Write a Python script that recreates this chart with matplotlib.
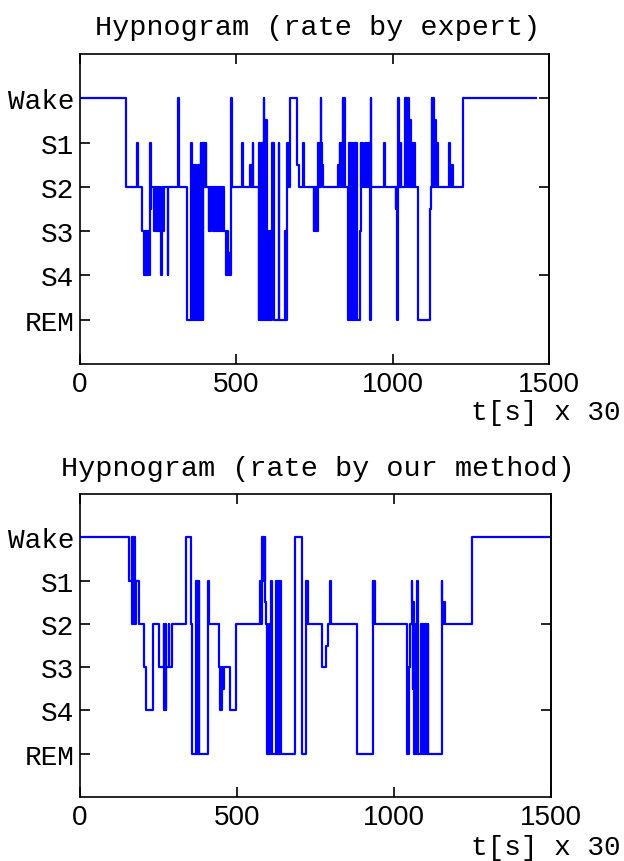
import matplotlib
matplotlib.use("Agg")
import matplotlib.pyplot as plt

# Stage coding: Wake=5, S1=4, S2=3, S3=2, S4=1, REM=0
stage_ticks = [5, 4, 3, 2, 1, 0]
stage_labels = ["Wake", "S1", "S2", "S3", "S4", "REM"]
x_ticks = [0, 500, 1000, 1500]

# Expert hypnogram: change epochs and stage values
expert_start = [
    0, 147, 183, 186, 198, 204, 207, 209, 212, 214, 217, 219, 221, 224, 226, 228,
    238, 240, 242, 245, 247, 250, 252, 255, 257, 260, 262, 267, 270, 281, 283,
    315, 317, 342, 356, 358, 361, 363, 365, 367, 369, 371, 377, 379, 381, 383,
    386, 388, 390, 392, 394, 396, 398, 400, 402, 404, 411, 413, 416, 418,
    425, 427, 430, 432, 435, 437, 440, 442, 445, 447, 450, 452, 455, 457, 459,
    468, 471, 473, 476, 480, 482, 484, 486, 518, 520, 545, 547, 549, 551, 552, 554,
    572, 574, 576, 578, 580, 582, 584, 586, 588, 590, 592, 594, 596, 598,
    606, 608, 614, 616, 618, 620, 622, 635, 637, 656, 659, 661, 663, 665, 667, 669, 671,
    672, 693, 700, 714, 716, 747, 749, 751, 753, 755, 757, 759, 762, 764, 766, 768,
    770, 772, 774, 776, 825, 827, 829, 831, 833, 835, 837, 840, 842, 844, 846,
    858, 860, 862, 864, 866, 868, 870, 872, 874, 876, 878, 880, 882, 884, 886,
    894, 898, 900, 903, 905, 913, 915, 917, 919, 921, 923, 925, 927, 929, 930, 931,
    972, 974, 1010, 1012, 1014, 1016, 1018, 1020, 1022, 1024, 1026, 1028,
    1040, 1042, 1044, 1046, 1048, 1050, 1052, 1054, 1056, 1058, 1060, 1062, 1064,
    1066, 1068, 1070, 1082, 1118, 1122, 1125, 1127, 1129, 1131, 1133, 1135, 1137,
    1139, 1141, 1143, 1145, 1180, 1182, 1186, 1188, 1190, 1192, 1225, 1458]
expert_stage = [
    5, 3, 4, 3, 2, 1, 2, 1, 2, 1, 1.5, 2, 1, 4, 2.5, 3,
    2, 3, 2, 3, 2, 3, 2, 3, 2, 1, 3, 2, 3, 1, 3,
    5, 3, 0, 4, 0, 3.5, 0, 3.5, 0, 3.5, 0, 3.5, 0, 3.5, 0,
    4, 0, 4, 0, 4, 3, 4, 3, 4, 3, 2, 3, 2, 3,
    2, 3, 2, 3, 2, 3, 2, 3, 2, 3, 2, 3, 2, 3, 2,
    1, 2, 1, 1.5, 1, 1.5, 5, 3, 4, 3, 3.5, 3, 3.5, 3, 4, 3,
    0, 4, 0, 4, 0, 4, 0, 4, 5, 0, 4.5, 0, 4.5, 0,
    2, 0, 4, 3, 4, 3.5, 0, 4, 0, 2, 0, 2, 4, 3, 4, 3, 4,
    5, 3.5, 3, 4, 3, 2, 3, 2, 3, 2, 3, 2, 4, 3, 4, 3,
    5, 4, 3.5, 3, 3.5, 3, 3.5, 4, 3, 4, 3, 5, 3, 5, 3,
    0, 4, 0, 4, 0, 4, 0, 4, 0, 4, 0, 4, 0, 4, 0,
    2, 4, 3, 4, 3, 4, 3, 4, 3, 4, 3, 4, 3, 0, 5, 3,
    4, 3, 2.5, 3, 0, 2.5, 5, 3, 4, 3, 4, 3,
    5, 3, 5, 4.5, 3, 5, 4.5, 3, 4.5, 3, 4, 3, 4,
    3, 4, 3, 0, 2.5, 3, 5, 3, 5, 4.5, 3, 4.5, 3,
    4, 3, 4, 3, 4, 3, 3.5, 3, 3.5, 3, 5, 5]

# Hypnogram from our method
method_start = [
    0, 155, 165, 167, 169, 171, 173, 175, 177, 187, 203, 210, 232, 251, 267, 269,
    271, 273, 275, 283, 285, 293, 337, 353, 358, 370, 372, 374, 376, 378, 380,
    409, 411, 443, 446, 448, 450, 452, 454, 456, 459, 477, 497,
    572, 577, 580, 582, 584, 586, 588, 590, 592, 594, 596, 598, 600, 602, 604,
    606, 608, 609, 610, 625, 627, 629, 631, 633, 635, 637, 639, 684, 708, 721, 726,
    772, 785, 790, 797, 799, 881, 932, 934, 936, 938,
    1042, 1044, 1046, 1048, 1050, 1056, 1058, 1060, 1062, 1064, 1066, 1068, 1070,
    1072, 1074, 1076, 1086, 1088, 1090, 1092, 1094, 1096, 1099, 1101, 1103, 1105,
    1107, 1109, 1152, 1154, 1156, 1158, 1161, 1248, 1500]
method_stage = [
    5, 4, 5, 3, 5, 3, 5, 3, 4, 3, 2, 1, 3, 2, 3, 1,
    3, 1, 2, 3, 2, 3, 5, 3, 0, 4, 0, 4, 0, 4, 0,
    4, 3, 2, 1, 2, 1, 1.5, 2, 1.5, 2, 1, 3,
    4, 3, 5, 4, 5, 4, 5, 3.5, 3, 2, 0, 2.5, 0, 3, 0,
    2, 0, 4, 0, 4, 0, 4, 0, 4, 0, 4, 0, 5, 0, 4, 3,
    2, 2.5, 3, 4, 3, 0, 4, 3, 4, 3,
    0, 2, 0, 2, 3, 4, 3.5, 1.5, 3.5, 0, 3, 0, 3,
    0, 4, 0, 3, 0, 3, 0, 3, 0, 3, 0, 3, 0,
    3, 0, 4, 3.5, 3, 3.5, 3, 5, 5]

W, H = 624, 862
fig = plt.figure(figsize=(W / 100, H / 100), dpi=100)
mono = "Liberation Mono"
sans = "Liberation Sans"


def make_axes(rect, xs, ys, title, title_y, xlabel_y):
    l, t, r, b = rect
    ax = fig.add_axes([l / W, 1 - b / H, (r - l) / W, (b - t) / H])
    ax.plot(xs, ys, drawstyle="steps-post", color="#0000ff", lw=1.6)
    ax.set_xlim(0, 1500)
    ax.set_ylim(-1, 6)
    ax.set_xticks(x_ticks)
    ax.set_xticklabels([str(v) for v in x_ticks], fontfamily=sans, fontsize=20)
    ax.set_yticks(stage_ticks)
    ax.set_yticklabels(stage_labels, fontfamily=mono, fontsize=20)
    ax.tick_params(axis="both", direction="in", length=7, width=1.2,
                   top=True, bottom=True, left=True, right=False, colors="black")
    ax.tick_params(axis="y", pad=4)
    ax.tick_params(axis="x", pad=5)
    sec = ax.secondary_yaxis("right")
    sec.set_yticks([5, 3, 1])
    sec.set_yticklabels([])
    sec.tick_params(direction="in", length=7, width=1.2)
    sec.spines["right"].set_linewidth(1.2)
    for s in ax.spines.values():
        s.set_linewidth(1.2)
    fig.text(318 / W, 1 - title_y / H, title, fontfamily=mono, fontsize=20.5,
             ha="center", va="center")
    fig.text(621 / W, 1 - xlabel_y / H, "t[s] x 30", fontfamily=mono,
             fontsize=20, ha="right", va="center")
    return ax


make_axes((80, 55, 549, 365), expert_start, expert_stage,
          "Hypnogram (rate by expert)", 28, 413)
make_axes((80, 495, 551, 798), method_start, method_stage,
          "Hypnogram (rate by our method)", 469, 848)

fig.savefig("out.png", dpi=100)
